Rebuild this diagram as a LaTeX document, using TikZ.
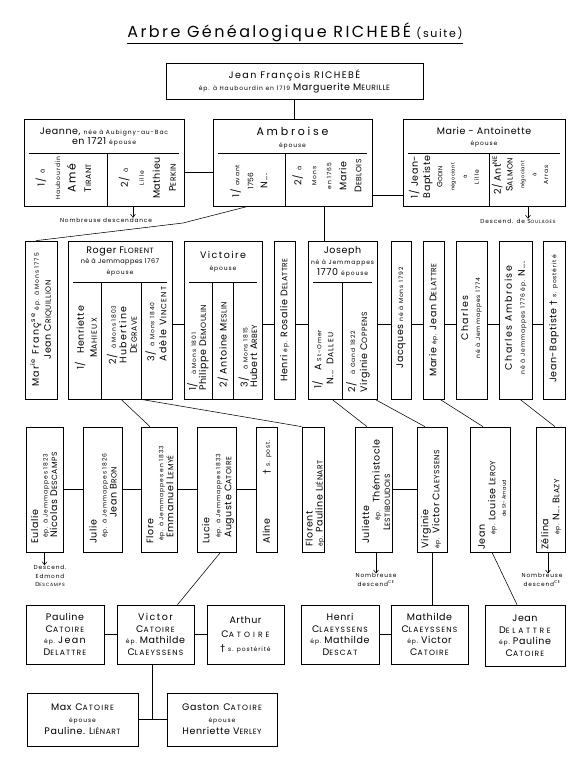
\documentclass[tikz,border=0pt]{standalone}
\usepackage{fontspec}
\setmainfont{Poppins}[LetterSpace=6]
\newfontfamily\symb{DejaVu Sans}
\usetikzlibrary{arrows.meta}
\tikzset{
  cadre/.style  = {draw, line width=0.7pt, inner sep=0pt},
  trait/.style  = {line width=0.55pt},
  fleche/.style = {line width=0.55pt, -{Straight Barb[length=3pt,width=5pt]}},
  lig/.style    = {font=\fontsize{9.5}{#1}\selectfont},
  rot/.style    = {rotate=90, align=center, inner sep=0pt},
  rotg/.style   = {rot, align=left, anchor=west},
  entete/.style = {align=center, inner sep=0pt},
  note/.style   = {align=center, inner sep=0pt, font=\fontsize{5.8}{8.5}\selectfont\addfontfeature{LetterSpace=15}}
}
\newcommand{\petit}{\fontsize{6}{7}\selectfont\addfontfeature{LetterSpace=15}}
\newcommand{\moyen}{\fontsize{7.5}{8}\selectfont}
\newcommand{\pc}[1]{\scalebox{0.8}{#1}}
\newcommand{\esp}[1]{{\addfontfeature{LetterSpace=15}#1}}
\newcommand{\croix}{{\symb †}}

\begin{document}
\begin{tikzpicture}[x=1pt, y=-1pt]
    \useasboundingbox (0,0) rectangle (586,768);
    \fill[white] (0,0) rectangle (586,768);
    % Title
    \node[inner sep=0pt, minimum width=326, minimum height=22, font=\fontsize{16}{18}\selectfont] (titre) at (295,32)
      {\esp{Arbre Généalogique RICHEBÉ} {\fontsize{11}{12}\selectfont\esp{(suite)}}};
    \draw[trait] (titre.south west) -- (titre.south east);
    % Jean Francois
    \node[cadre, minimum width=257, minimum height=36, align=center, font=\fontsize{9.5}{12}\selectfont] (jf) at (294.5,81)
      {\esp{Jean François RICHEBÉ}\\ {\petit ép. à Haubourdin en 1719} Marguerite M\pc{EURILLE}};
    % Generation 2
    \node[cadre, minimum width=160, minimum height=87] (jeanne) at (104,162.5) {};
    \node[entete, lig=10.5] (jeanne_t) at (104,137) {Jeanne, {\petit née à Aubigny-au-Bac}\\ en 1721 {\petit épouse}};
    \draw[trait] (29,153) -- (179,153) (107,153) -- (107,206);
    \node[rot, lig=15.5] (jeanne1) at (63.5,178) {1/\hspace{5pt}{\petit à}\\ {\petit Haubourdin}\\ {\fontsize{11}{12}\selectfont\esp{Amé}}\\ T\pc{IRANT}};
    \node[rot, lig=16] (jeanne2) at (147.5,178) {2/\hspace{5pt}{\petit à}\\ {\petit Lille}\\ Mathieu\\ P\pc{ERKIN}};

    \node[cadre, minimum width=159, minimum height=87] (ambroise) at (292.5,162.5) {};
    \node[entete] (ambroise_t) at (292.5,138) {{\fontsize{11}{12}\selectfont\addfontfeature{LetterSpace=25}Ambroise}\\ {\petit épouse}};
    \draw[trait] (218,153) -- (367,153) (285,153) -- (285,206);
    \node[rot, lig=14] (ambroise1) at (249,181) {1/\hspace{3pt}{\petit avant}\\ {\moyen 1756}\\ N...};
    \node[rot, lig=15] (ambroise2) at (327,176) {2/\hspace{4pt}{\petit à}\\ {\petit Mons}\\ {\petit en 1765}\\ Marie\\ D\pc{EBLOIS}};

    \node[cadre, minimum width=162, minimum height=87] (marieant) at (484,162.5) {};
    \node[entete, lig=11] (marieant_t) at (484,137) {Marie - Antoinette\\ {\petit épouse}};
    \draw[trait] (408,153) -- (560,153) (489,153) -- (489,206);
    \node[rot, lig=12.2] (marieant1) at (444,177) {1/ Jean-\\ Baptiste\\ {\moyen G\pc{ODIN}}\\ {\tiny négociant}\\ {\tiny à}\\ {\petit Lille}};
    \node[rot, lig=11.8] (marieant2) at (520,175) {2/ Ant\textsuperscript{NE}\\ S\pc{ALMON}\\ {\tiny négociant}\\ {\tiny à}\\ {\petit Arras}};

    \draw[trait] (jf.south) -- (jf.south |- ambroise.north);
    \draw[trait] ([yshift=-9.5pt]jeanne.east) -- ([yshift=-9.5pt]ambroise.west);
    \draw[trait] ([yshift=-33pt]ambroise.east) -- ([yshift=-33pt]marieant.west);
    \node[note] (jeanne_d) at (106,220) {Nombreuse descendance};
    \draw[fleche] ([xshift=29pt]jeanne.south) -- ([xshift=27pt]jeanne_d.north);
    \node[note] (marieant_d) at (518,221) {Descend. de S\pc{OULAGES}};
    \draw[fleche] ([xshift=44pt]marieant.south) -- ([xshift=10pt]marieant_d.north);

    % Generation 3
    \node[cadre, minimum width=32, minimum height=158] (mariefr) at (41,320) {};
    \node[rot, lig=12] (mariefr_t) at (41,320) {\esp{Mar\textsuperscript{ie} Franç\textsuperscript{se}} {\petit ép. à Mons 1775}\\ Jean C\pc{RIQUILLION}};

    \node[cadre, minimum width=104, minimum height=158] (roger) at (120,320) {};
    \node[entete, lig=10.5] (roger_t) at (120,261) {Roger F\pc{LORENT}\\ {\fontsize{6.5}{7}\selectfont né à Jemmappes 1767}\\ {\petit épouse}};
    \draw[trait] (73,282) -- (167,282) (101,282) -- (101,399) (141,282) -- (141,399);
    \node[rot, lig=13] (roger1) at (86,338) {1/\hspace{8pt}Henriette\\ \esp{M\pc{AHIEUX}}};
    \node[rot, lig=10.5] (roger2) at (122,335) {2/\hspace{5pt}{\petit à Mons 1803}\\ \esp{Hubertine}\\ D\pc{EGRAVE}};
    \node[rotg, lig=12] (roger3) at (156,362) {3/\hspace{5pt}{\petit à Mons 1840}\\ \esp{Adèle V\pc{INCENT}}};

    \node[cadre, minimum width=78, minimum height=158] (victoire) at (223,320) {};
    \node[entete, lig=12] (victoire_t) at (223,262) {\esp{Victoire}\\ {\petit épouse}};
    \draw[trait] (189,282) -- (257,282) (212,282) -- (212,399) (233,282) -- (233,399);
    \node[rotg, lig=10] (victoire1) at (198,391) {1/\hspace{8pt}{\petit à Mons 1801}\\ Philippe D\pc{EMOULIN}};
    \node[rot, lig=10] (victoire2) at (223,345) {2/ Antoine M\pc{ESLIN}};
    \node[rotg, lig=9.5] (victoire3) at (248,388) {3/\hspace{8pt}{\petit à Mons 1815}\\ Hubert\hspace{3pt}A\pc{RBEY}};

    \node[cadre, minimum width=21, minimum height=158] (henri) at (284.5,320) {};
    \node[rot, lig=10] (henri_t) at (284.5,320) {Henri {\petit ép.} Rosalie D\pc{ELATTRE}};

    \node[cadre, minimum width=69, minimum height=158] (joseph) at (342.5,320) {};
    \node[entete, lig=11] (joseph_t) at (342.5,262) {Joseph\\ {\petit né à Jemmappes}\\ 1770 {\petit épouse}};
    \draw[trait] (313,282) -- (372,282) (342,282) -- (342,399);
    \node[rotg, lig=12] (joseph1) at (323,389) {1/\hspace{10pt}A {\petit St-Omer}\\ \hspace{4pt}N...\hspace{6pt}\esp{D\pc{ALLEU}}};
    \node[rotg, lig=12] (joseph2) at (358,393) {2/\hspace{8pt}{\petit à Gand 1822}\\ Virginie C\pc{OPPENS}};

    \node[cadre, minimum width=20, minimum height=158] (jacques) at (401,320) {};
    \node[rot, lig=10] (jacques_t) at (401,318) {Jacques {\petit né à Mons 1792}};
    \node[cadre, minimum width=21, minimum height=158] (marie) at (433.5,320) {};
    \node[rot, lig=10] (marie_t) at (433.5,320) {Marie {\petit ép.} Jean D\pc{ELATTRE}};
    \node[cadre, minimum width=31, minimum height=158] (charles) at (471.5,320) {};
    \node[rot, lig=12] (charles_t) at (471.5,318) {\esp{Charles}\\ {\petit né à Jemmappes 1774}};
    \node[cadre, minimum width=33, minimum height=158] (charlesamb) at (515.5,320) {};
    \node[rot, lig=13] (charlesamb_t) at (515.5,318) {\esp{Charles Ambroise}\\ {\petit né à Jemmappes 1776 ép.} N...};
    \node[cadre, minimum width=22, minimum height=158] (jeanbapt) at (554,320) {};
    \node[rot, lig=10] (jeanbapt_t) at (554,319) {Jean-Baptiste \croix\ {\petit s. postérité}};

    \coordinate (coude) at (183,223);
    \draw[trait] ([xshift=-44.5pt]ambroise.south) -- (coude) -- ([xshift=-5pt]mariefr.north);
    \coordinate (amb2) at ([xshift=31.5pt]ambroise.south);
    \draw[trait] (amb2) -- (amb2 |- joseph.north);
    \foreach \a/\b in {roger/victoire, victoire/henri, henri/joseph, joseph/jacques, jacques/marie,
                       marie/charles, charles/charlesamb, charlesamb/jeanbapt}
      \draw[trait] ([yshift=-4pt]\a.east) -- ([yshift=-4pt]\b.west);

    % Generation 4
    \node[cadre, minimum width=37, minimum height=125] (eulalie) at (44.5,489.5) {};
    \node[rotg, lig=9.5] (eulalie_t) at (44,544) {Eulalie\\ \hspace{6pt}{\petit ép. à Jemmappes 1823}\\ \hspace{6pt}Nicolas D\pc{ESCAMPS}};
    \node[cadre, minimum width=39, minimum height=125] (julie) at (102.5,489.5) {};
    \node[rotg, lig=10] (julie_t) at (103,544) {Julie\\ \hspace{6pt}{\petit ép. à Jemmappes 1826}\\ \hspace{26pt}Jean B\pc{RON}};
    \node[cadre, minimum width=36, minimum height=125] (flore) at (159,489.5) {};
    \node[rotg, lig=10] (flore_t) at (160,544) {Flore\\ \hspace{3pt}{\petit ép. à Jemmappes en 1833}\\ \hspace{6pt}Emmanuel L\pc{EMYÉ}};
    \node[cadre, minimum width=39, minimum height=125] (lucie) at (216.5,489.5) {};
    \node[rotg, lig=11] (lucie_t) at (218,544) {Lucie\\ \hspace{6pt}{\petit ép. à Jemmappes 1833}\\ \hspace{6pt}Auguste C\pc{ATOIRE}};
    \node[cadre, minimum width=21, minimum height=125] (aline) at (266.5,489.5) {};
    \node[rotg, lig=10] (aline_t) at (267,544) {Aline\hspace{44pt}\croix\ {\petit s. post.}};
    \node[cadre, minimum width=22, minimum height=125] (florent) at (313,489.5) {};
    \node[rotg, lig=10] (florent_t) at (315,547) {Florent\\ {\petit ép.}\ Pauline L\pc{IÉNART}};
    \node[cadre, minimum width=37, minimum height=125] (juliette) at (373.5,489.5) {};
    \node[rotg, lig=10.5] (juliette_t) at (376,544) {Juliette\\ \hspace{23pt}{\petit ép.}\hspace{7pt}Thémistocle\\ \hspace{13pt}L\pc{ESTIBOUDOIS}};
    \node[cadre, minimum width=30, minimum height=125] (virginie) at (432,489.5) {};
    \node[rotg, lig=11] (virginie_t) at (431,549) {Virginie\\ {\petit ép.} Victor C\pc{LAEYSSENS}};
    \node[cadre, minimum width=40, minimum height=125] (jeanr4) at (490,489.5) {};
    \node[rotg, lig=10.5] (jeanr4_t) at (492,550) {Jean\\ \hspace{15pt}{\petit ép.}\ Louise L\pc{EROY}\\ \hspace{33pt}{\tiny de St-Arnaud}};
    \node[cadre, minimum width=29, minimum height=125] (zelina) at (550.5,489.5) {};
    \node[rotg, lig=11] (zelina_t) at (551,550) {Zélina\\ \hspace{15pt}{\petit ép.}\ N...\ B\pc{LAZY}};

    \draw[trait] ([xshift=1pt]roger.south) -- ([xshift=-9pt]flore.north);
    \draw[trait] ([xshift=21pt]roger.south) -- (florent.north west);
    \draw[trait] ([xshift=-10.5pt]joseph.south) -- ([xshift=-6.5pt]juliette.north);
    \draw[trait] ([xshift=32.5pt]joseph.south) -- ([xshift=-7pt]virginie.north);
    \draw[trait] ([xshift=6.5pt]marie.south) -- ([xshift=-7pt]jeanr4.north);
    \draw[trait] ([xshift=4.5pt]charlesamb.south) -- ([xshift=4.5pt]zelina.north);
    \foreach \a/\b in {eulalie/julie, julie/flore, flore/lucie, lucie/aline, juliette/virginie}
      \draw[trait] (\a.east) -- (\b.west);

    \node[note] (eulalie_d) at (50,576) {Descend.\\ Edmond\\ D\pc{ESCAMPS}};
    \draw[fleche] (eulalie.south) -- (eulalie.south |- eulalie_d.north);
    \node[note] (juliette_d) at (376,580) {Nombreuse\\ descend\textsuperscript{CE}};
    \coordinate (jul) at ([xshift=2.5pt]juliette.south);
    \draw[fleche] (jul) -- (jul |- juliette_d.north);
    \node[note] (zelina_d) at (542,580) {Nombreuse\\ descend\textsuperscript{CE}};
    \coordinate (zel) at ([xshift=-2.5pt]zelina.south);
    \draw[fleche] (zel) -- (zel |- zelina_d.north);

    % Generation 5
    \node[cadre, minimum width=78, minimum height=59, align=center, lig=11.5] (pauline) at (65,634.5)
      {Pauline\\ \esp{C\pc{ATOIRE}}\\ {\petit ép.}\ \esp{Jean}\\ \esp{D\pc{ELATTRE}}};
    \node[cadre, minimum width=77, minimum height=59, align=center, lig=11.5] (victor) at (155.5,634.5)
      {\esp{Victor}\\ \esp{C\pc{ATOIRE}}\\ {\petit ép.}\ Mathilde\\ \esp{C\pc{LAEYSSENS}}};
    \node[cadre, minimum width=77, minimum height=59, align=center, lig=14] (arthur) at (245.5,634.5)
      {Arthur\\ {\addfontfeature{LetterSpace=40}C\pc{ATOIRE}}\\ \croix\ {\petit s. postérité}};
    \node[cadre, minimum width=78, minimum height=59, align=center, lig=11.5] (henrir5) at (340,634.5)
      {Henri\\ \esp{C\pc{LAEYSSENS}}\\ {\petit ép.}\ Mathilde\\ \esp{D\pc{ESCAT}}};
    \node[cadre, minimum width=77, minimum height=59, align=center, lig=11.5] (mathilde) at (429.5,634.5)
      {Mathilde\\ \esp{C\pc{LAEYSSENS}}\\ {\petit ép.}\ Victor\\ \esp{C\pc{ATOIRE}}};
    \node[cadre, minimum width=80, minimum height=61, align=center, lig=11.5] (jeanr5) at (525,635.5)
      {Jean\\ {\addfontfeature{LetterSpace=35}D\pc{ELATTRE}}\\ {\petit ép.}\ Pauline\\ \esp{C\pc{ATOIRE}}};

    \draw[trait] ([xshift=4pt]lucie.south) -- ([xshift=22pt]victor.north);
    \draw[trait] (virginie.south) -- (virginie.south |- mathilde.north);
    \draw[trait] ([xshift=2pt]jeanr4.south) -- ([xshift=-8pt]jeanr5.north);
    \foreach \a/\b in {pauline/victor, victor/arthur, henrir5/mathilde}
      \draw[trait] (\a.east) -- (\b.west);

    % Generation 6
    \node[cadre, minimum width=111, minimum height=53, align=center, lig=12] (max) at (82.5,719.5)
      {Max\hspace{4pt}\esp{C\pc{ATOIRE}}\\ {\petit épouse}\\ Pauline. L\pc{IÉNART}};
    \node[cadre, minimum width=110, minimum height=53, align=center, lig=12] (gaston) at (222,719.5)
      {Gaston\hspace{4pt}\esp{C\pc{ATOIRE}}\\ {\petit épouse}\\ Henriette V\pc{ERLEY}};
    \draw[trait] (max.east) -- (gaston.west);
    \coordinate (vbas) at ([xshift=-3pt]victor.south);
    \draw[trait] (vbas) -- (vbas |- max.east);
  \end{tikzpicture}
\end{document}
